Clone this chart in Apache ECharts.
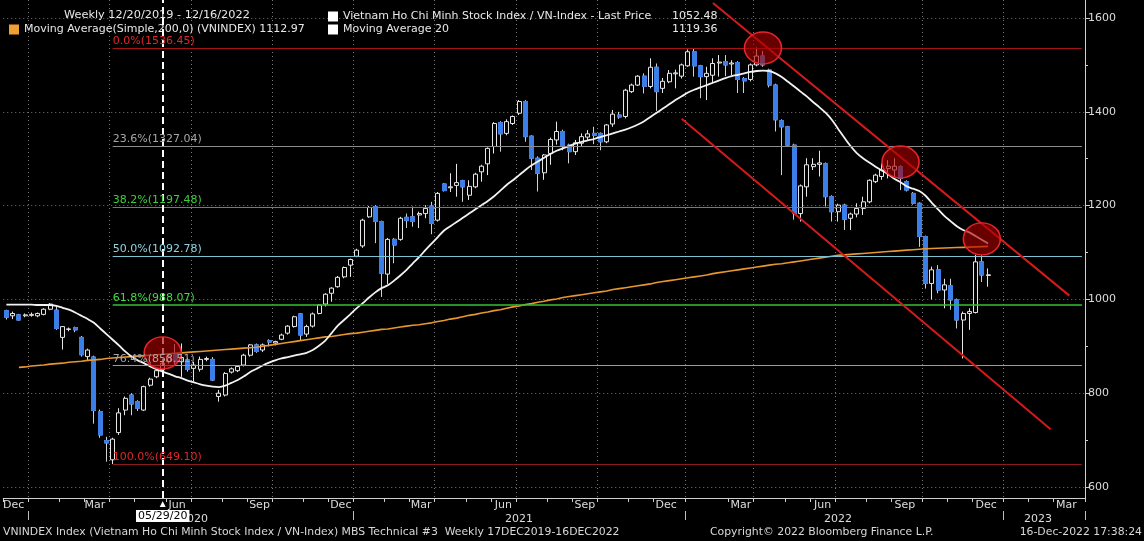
<!DOCTYPE html>
<html><head><meta charset="utf-8">
<script src="https://cdn.jsdelivr.net/npm/echarts@6/dist/echarts.min.js"></script>
<style>html,body{margin:0;padding:0;background:#000;}#c{width:1144px;height:541px;}</style>
</head><body><div id="c"></div>
<script>
const FONT = '"DejaVu Sans", Verdana, sans-serif';
// weekly categories (Fridays), Tet 2022 closed week skipped, extended into 2023
const START_DATE = [2019, 11, 6];
const SKIP_WEEKS = ['2022-02-04'];
const N_CATS = 173;

const openV = [
976,965,967,965,966,965,968,979,977,919,
936,940,919,878,877,761,699,658,716,764,
796,782,764,817,835,850,867,884,867,871,
853,851,872,872,793,796,845,848,860,881,
903,892,912,907,915,928,942,969,926,943,
970,990,1013,1027,1048,1073,1092,1114,1176,1198,
1166,1054,1128,1128,1175,1176,1180,1183,1199,1169,
1246,1238,1243,1253,1222,1240,1272,1289,1326,1377,
1354,1375,1397,1422,1348,1301,1270,1311,1340,1358,
1329,1315,1333,1346,1354,1354,1336,1374,1393,1390,
1443,1457,1476,1454,1495,1450,1464,1481,1476,1498,
1528,1498,1475,1478,1504,1507,1502,1505,1471,1469,
1500,1519,1489,1457,1381,1368,1329,1183,1240,1283,
1288,1289,1219,1187,1201,1173,1182,1194,1208,1251,
1262,1279,1276,1283,1251,1226,1205,1134,1034,1063,
1020,1029,999,956,970,972,1080,1051];
const closeV = [
962,970,956,967,968,970,979,990,938,942,
937,935,882,892,763,711,694,702,758,789,
777,768,814,830,848,864,879,867,876,851,
860,872,874,828,800,842,852,857,881,903,
889,903,909,910,924,943,963,924,942,969,
988,1011,1024,1047,1068,1085,1105,1169,1196,1166,
1056,1128,1116,1173,1168,1166,1183,1194,1162,1226,
1232,1240,1249,1240,1241,1267,1284,1322,1375,1353,
1379,1390,1422,1347,1301,1269,1308,1341,1358,1326,
1315,1334,1347,1353,1350,1336,1372,1395,1389,1446,
1457,1476,1454,1495,1443,1465,1482,1483,1500,1528,
1498,1475,1482,1503,1506,1500,1504,1469,1466,1500,
1519,1500,1457,1383,1368,1329,1183,1242,1287,1288,
1291,1219,1187,1201,1171,1182,1194,1208,1254,1265,
1276,1284,1284,1258,1233,1205,1134,1034,1063,1020,
1031,999,956,970,974,1080,1052,1052.48];
const highV = [
978,974,969,970,972,972,981,992,985,943,
940,942,922,895,880,765,707,705,768,793,
800,785,816,833,850,868,883,905,906,875,
867,878,878,877,807,845,855,860,884,905,
906,906,915,912,927,945,965,971,946,972,
990,1013,1026,1050,1070,1087,1108,1172,1199,1201,
1168,1131,1131,1176,1183,1198,1187,1201,1208,1229,
1248,1269,1289,1255,1254,1270,1287,1324,1378,1380,
1384,1392,1425,1425,1350,1305,1310,1345,1379,1362,
1332,1340,1354,1361,1368,1356,1374,1404,1400,1449,
1460,1478,1482,1514,1503,1472,1489,1490,1503,1533,
1536,1500,1496,1514,1521,1521,1510,1508,1474,1503,
1537,1530,1492,1460,1384,1370,1332,1245,1301,1301,
1317,1292,1222,1204,1204,1185,1205,1219,1256,1268,
1290,1297,1301,1286,1254,1229,1207,1136,1070,1073,
1044,1044,1002,974,981,1095,1094,1066];
const lowV = [
957,958,955,962,963,962,966,977,935,893,
932,930,878,870,735,705,654,649,711,753,
753,762,762,814,832,846,863,860,835,846,
825,846,868,826,782,793,842,845,857,878,
886,888,900,902,913,925,940,912,920,940,
968,985,995,1025,1045,1048,1090,1110,1174,1120,
1005,1033,1077,1125,1152,1155,1152,1173,1139,1166,
1230,1229,1219,1208,1212,1237,1251,1265,1311,1315,
1350,1372,1393,1336,1276,1230,1255,1287,1330,1318,
1290,1308,1326,1340,1331,1318,1333,1368,1385,1386,
1440,1455,1439,1450,1402,1440,1461,1450,1471,1496,
1475,1429,1425,1461,1475,1476,1478,1440,1440,1465,
1497,1496,1452,1358,1265,1325,1170,1166,1219,1276,
1262,1198,1166,1166,1148,1148,1175,1180,1205,1248,
1255,1258,1262,1233,1230,1202,1112,1023,1000,1013,
981,978,938,874,935,970,1037,1027];
const ma20V = [
989,989,989,989,989,988,988,988,986,982,
978,972,965,958,950,938,926,914,902,889,
878,870,864,857,851,846,841,836,832,827,
823,819,816,814,813,816,822,828,836,845,
852,859,865,870,874,877,880,883,886,892,
901,912,928,944,956,968,981,992,1004,1015,
1024,1030,1040,1051,1063,1077,1090,1105,1119,1133,
1147,1156,1165,1174,1183,1192,1201,1210,1220,1232,
1244,1254,1265,1276,1286,1294,1302,1310,1317,1322,
1327,1332,1336,1339,1342,1346,1350,1354,1358,1362,
1367,1373,1380,1389,1398,1407,1416,1425,1433,1441,
1447,1452,1457,1462,1467,1472,1476,1479,1482,1485,
1487,1488,1487,1482,1474,1464,1454,1443,1433,1421,
1410,1398,1383,1364,1345,1327,1312,1301,1292,1283,
1275,1267,1257,1250,1241,1236,1231,1221,1206,1192,
1178,1167,1156,1148,1143,1135,1127,1119.36];
const ma200V = [
'-','-',855,856,858,859,860,862,863,864,
866,867,868,870,871,872,874,875,876,877,
878,879,880,881,882,883,884,885,886,887,
888,889,890,891,892,893,894,895,896,897,
898,900,902,904,906,908,910,912,914,916,
918,920,921,923,925,927,928,930,932,934,
936,937,939,941,943,945,946,948,950,953,
955,958,960,963,966,968,971,973,976,978,
981,984,986,989,991,994,996,999,1001,1004,
1006,1008,1010,1012,1014,1016,1018,1021,1023,1025,
1027,1029,1031,1033,1036,1038,1040,1042,1044,1046,
1048,1050,1052,1055,1057,1059,1061,1063,1065,1067,
1069,1071,1073,1075,1076,1078,1080,1082,1084,1086,
1088,1090,1092,1094,1095,1096,1097,1098,1099,1100,
1101,1102,1103,1104,1105,1106,1107,1108,1108.5,1109,
1109.5,1110,1110.5,1111,1111.5,1112,1112.5,1112.97];

const yTickValues = [600, 800, 1000, 1200, 1400, 1600];
const yMinorValues = [700, 900, 1100, 1300, 1500];
const fibHigh = 1536.45, fibLow = 649.10;
const fibRatios = [0, 0.236, 0.382, 0.5, 0.618, 0.764, 1.0];
const fibLineColors = ['#a51414', '#8c8c8c', '#2fae2f', '#7cc2d2', '#33c233', '#9a9a9a', '#8e1a1a'];
const fibTextColors = ['#e0262a', '#a6a6a6', '#3ccf3c', '#8fd3e3', '#46d846', '#a6a6a6', '#e0262a'];
const fibStartIdx = 17;
const monthNames = ['Jan','Feb','Mar','Apr','May','Jun','Jul','Aug','Sep','Oct','Nov','Dec'];
const labelMonths = [3, 6, 9, 12];
const gridMonths = [1, 4, 7, 10];
const markedDateIdx = 25;  // 05/29/2020
const markedDateText = '05/29/20';
const circleMarks = [[25, 886], [121, 1536], [143, 1293], [156, 1129]];
const upperChannel = [[113, 1632], [170, 1008]];
const lowerChannel = [[108, 1385], [167, 723]];

const NAME_PX = 'Vietnam Ho Chi Minh Stock Index / VN-Index - Last Price';
const NAME_MA20 = 'Moving Average 20';
const NAME_MA200 = 'Moving Average(Simple,200,0) (VNINDEX)';

function buildCats() {
  const out = [];
  let t = Date.UTC(START_DATE[0], START_DATE[1], START_DATE[2]);
  while (out.length < N_CATS) {
    const s = new Date(t).toISOString().slice(0, 10);
    if (SKIP_WEEKS.indexOf(s) < 0) out.push(s);
    t += 7 * 864e5;
  }
  return out;
}
const cats = buildCats();
const nData = closeV.length;
const candleData = closeV.map((c, i) => [openV[i], c, lowV[i], highV[i]]);
const downBodies = closeV.map((c, i) => c < openV[i] ? [openV[i], c, c, openV[i]] : '-');

function parts(s) { return [+s.slice(0, 4), +s.slice(5, 7), +s.slice(8, 10)]; }
function firstFri(s) { return parts(s)[2] <= 7; }

const lastPx = closeV[nData - 1];
const lastMa20 = ma20V[nData - 1];
const lastMa200 = ma200V[nData - 1];
const fmt = v => v.toFixed(2);
const FS = 11;

const fibLines = fibRatios.map((r, k) => {
  const lvl = +(fibHigh - r * (fibHigh - fibLow)).toFixed(2);
  return [
    { coord: [fibStartIdx, lvl],
      lineStyle: { color: fibLineColors[k], width: (k === 4 ? 1.6 : 1.2), type: 'solid' },
      label: { show: true, position: 'insideStartTop', distance: [0, 1], color: fibTextColors[k],
               fontFamily: FONT, fontSize: FS,
               formatter: (r * 100).toFixed(1) + '%(' + fmt(lvl) + ')' } },
    { coord: [N_CATS - 1, lvl] }
  ];
});

// month label rich styles: shift label horizontally toward mid-month
const monthRich = {};
for (let k = 1; k <= 3; k++) {
  monthRich['r' + k] = { color: '#dcdcdc', fontFamily: FONT, fontSize: FS, padding: [0, 0, 0, 2 * k] };
  monthRich['l' + k] = { color: '#dcdcdc', fontFamily: FONT, fontSize: FS, padding: [0, 2 * k, 0, 0] };
}

const chart = echarts.init(document.getElementById('c'), null, { renderer: 'canvas' });
const txt = { color: '#e8e8e8', fontFamily: FONT, fontSize: FS, fontWeight: 'normal' };
const foot = Object.assign({}, txt, { color: '#d8d8d8', fontSize: 10.85 });
const richNV = { n: { width: 329, color: '#e8e8e8', fontFamily: FONT, fontSize: FS }, v: { color: '#e8e8e8', fontFamily: FONT, fontSize: FS } };

chart.setOption({
  animation: false,
  backgroundColor: '#000',
  title: [
    { text: 'Weekly 12/20/2019 - 12/16/2022', left: 64, top: 10, padding: 0, textStyle: Object.assign({}, txt, { fontSize: 11.3 }) },
    { text: 'VNINDEX Index (Vietnam Ho Chi Minh Stock Index / VN-Index) MBS Technical #3  Weekly 17DEC2019-16DEC2022', left: 3, top: 527, padding: 0, textStyle: foot },
    { text: 'Copyright\u00a9 2022 Bloomberg Finance L.P.', left: 710, top: 527, padding: 0, textStyle: foot },
    { text: '16-Dec-2022 17:38:24', right: 2, top: 527, padding: 0, textStyle: foot }
  ],
  legend: [
    { left: 328, top: 11, padding: 0, itemWidth: 10, itemHeight: 10, itemGap: 0, selectedMode: false,
      data: [{ name: NAME_PX, icon: 'rect', itemStyle: { color: '#fff', borderWidth: 0 } }],
      formatter: n => '{n|' + n + '}{v|' + fmt(lastPx) + '}',
      textStyle: Object.assign({}, txt, { rich: richNV }) },
    { left: 328, top: 24, padding: 0, itemWidth: 10, itemHeight: 10, itemGap: 0, selectedMode: false,
      data: [{ name: NAME_MA20, icon: 'rect', itemStyle: { color: '#fff', borderWidth: 0 } }],
      formatter: n => '{n|' + n + '}{v|' + fmt(lastMa20) + '}',
      textStyle: Object.assign({}, txt, { rich: richNV }) },
    { left: 9, top: 24, padding: 0, itemWidth: 10, itemHeight: 10, selectedMode: false,
      data: [{ name: NAME_MA200, icon: 'rect', itemStyle: { color: '#f0a030', borderWidth: 0 } }],
      formatter: n => n + ' ' + fmt(lastMa200),
      textStyle: txt }
  ],
  grid: { left: 2, right: 59, top: 0, bottom: 43, containLabel: false },
  xAxis: [
    { type: 'category', data: cats, boundaryGap: true, position: 'bottom',
      axisLine: { show: true, lineStyle: { color: '#cfcfcf', width: 1 } },
      axisTick: { show: true, length: 4, interval: (i, v) => firstFri(v), lineStyle: { color: '#cfcfcf' } },
      axisLabel: { show: true, margin: 2, color: '#dcdcdc', fontFamily: FONT, fontSize: FS,
        interval: (i, v) => { const p = parts(v); return labelMonths.indexOf(p[1]) >= 0 && p[2] >= 11 && p[2] <= 17; },
        formatter: v => { const p = parts(v); const s = Math.round((14 - p[2]) * 6.26 / 7); const m = monthNames[p[1] - 1];
          return s > 0 ? '{r' + s + '|' + m + '}' : (s < 0 ? '{l' + (-s) + '|' + m + '}' : m); },
        rich: monthRich },
      splitLine: { show: true, interval: (i, v) => { const p = parts(v); return gridMonths.indexOf(p[1]) >= 0 && p[2] <= 7; },
        lineStyle: { color: '#7a7a7a', type: [1, 3], width: 1 } } },
    { type: 'category', data: cats, boundaryGap: true, position: 'bottom', offset: 13,
      axisLine: { show: false },
      axisTick: { show: true, length: 9, interval: (i, v) => { const p = parts(v); return p[1] === 1 && p[2] <= 7; }, lineStyle: { color: '#bdbdbd' } },
      axisLabel: { show: true, margin: 3, color: '#dcdcdc', fontFamily: FONT, fontSize: FS,
        interval: (i, v) => { const p = parts(v); return (p[1] === 7 && p[2] <= 7) || v === '2023-02-10'; },
        formatter: v => v.slice(0, 4) },
      splitLine: { show: false } }
  ],
  yAxis: [
    { type: 'value', position: 'right', min: 576.5, max: 1638.4, scale: true,
      axisLine: { show: true, lineStyle: { color: '#cfcfcf' } },
      axisTick: { show: true, length: 5, customValues: yTickValues, lineStyle: { color: '#cfcfcf' } },
      axisLabel: { show: true, customValues: yTickValues, margin: 3, color: '#dcdcdc', fontFamily: FONT, fontSize: FS,
        formatter: v => String(v) },
      splitLine: { show: true, lineStyle: { color: '#7a7a7a', type: [1, 3], width: 1 } } },
    { type: 'value', position: 'right', min: 576.5, max: 1638.4, scale: true,
      axisLine: { show: false },
      axisTick: { show: true, length: 3, customValues: yMinorValues, lineStyle: { color: '#cfcfcf' } },
      axisLabel: { show: false },
      splitLine: { show: false } }
  ],
  series: [
    { name: NAME_PX, type: 'candlestick', data: candleData, barWidth: '72%', z: 2,
      itemStyle: { color: '#000', color0: '#3c7ee8', borderColor: '#e6e6e6', borderColor0: '#d0d0d0', borderWidth: 1 },
      markLine: { silent: true, symbol: 'none', animation: false,
        data: [ { yAxis: lastPx, lineStyle: { opacity: 0 },
          label: { show: true, position: 'end', distance: 4, formatter: fmt(lastPx), backgroundColor: '#f4f4f4', color: '#111', padding: [2, 5, 1, 4], fontFamily: FONT, fontSize: FS } } ] } },
    { name: 'down-bodies', type: 'candlestick', data: downBodies, barWidth: '72%', z: 2, silent: true,
      itemStyle: { color: '#000', color0: '#3c7ee8', borderColor: '#e6e6e6', borderColor0: '#3c7ee8', borderWidth: 1 } },
    { name: NAME_MA200, type: 'line', data: ma200V, symbol: 'none', z: 3,
      lineStyle: { color: '#e8962e', width: 1.6 }, itemStyle: { color: '#f0a030' },
      markLine: { silent: true, symbol: 'none', animation: false,
        data: [ { yAxis: lastMa200, lineStyle: { opacity: 0 },
          label: { show: true, position: 'end', distance: 4, formatter: fmt(lastMa200), backgroundColor: '#e8962e', color: '#111', padding: [2, 5, 1, 4], fontFamily: FONT, fontSize: FS } } ] } },
    { name: NAME_MA20, type: 'line', data: ma20V, symbol: 'none', smooth: 0.3, z: 4,
      lineStyle: { color: '#f2f2f2', width: 1.8 }, itemStyle: { color: '#fff' },
      markLine: { silent: true, symbol: 'none', animation: false,
        data: [ { yAxis: lastMa20, lineStyle: { opacity: 0 },
          label: { show: true, position: 'end', distance: 4, formatter: fmt(lastMa20), backgroundColor: '#f4f4f4', color: '#111', padding: [2, 5, 1, 4], fontFamily: FONT, fontSize: FS } } ] } },
    { name: 'annotations', type: 'line', data: [], z: 5, silent: true,
      markLine: { silent: true, symbol: 'none', animation: false,
        data: fibLines.concat([
          [ { coord: upperChannel[0], lineStyle: { color: '#d41a1a', width: 2, type: 'solid' }, label: { show: false } }, { coord: upperChannel[1] } ],
          [ { coord: lowerChannel[0], lineStyle: { color: '#d41a1a', width: 2, type: 'solid' }, label: { show: false } }, { coord: lowerChannel[1] } ],
          { xAxis: cats[markedDateIdx], lineStyle: { color: '#ffffff', width: 2, type: [7, 4] },
            label: { show: true, position: 'start', distance: 1, formatter: '{t|\u25b2}\n{b|' + markedDateText + '}',
              rich: { t: { color: '#fff', fontSize: 10, lineHeight: 10, align: 'center' },
                      b: { backgroundColor: '#fff', color: '#000', fontFamily: FONT, fontSize: FS, padding: [1, 2, 0, 2], lineHeight: 14 } } } }
        ]) },
      markPoint: { silent: true, animation: false, symbol: 'circle', symbolSize: [37, 32],
        itemStyle: { color: 'rgba(170,0,0,0.62)', borderColor: '#e8242a', borderWidth: 1.5 },
        label: { show: false },
        data: circleMarks.map(c => ({ coord: c })) } }
  ]
});
</script>
</body></html>
